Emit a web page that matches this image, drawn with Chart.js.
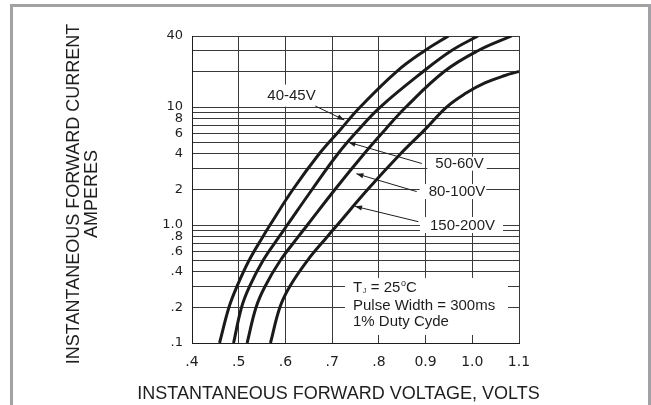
<!DOCTYPE html>
<html>
<head>
<meta charset="utf-8">
<script src="https://cdn.jsdelivr.net/npm/chart.js@4"></script>
<style>
html,body{margin:0;padding:0;background:#fff;}
canvas{display:block;}
</style>
</head>
<body>
<canvas id="c" width="651" height="405"></canvas>
<script>
// ---- data ----
const seriesNames = ['40-45V', '50-60V', '80-100V', '150-200V'];
const current40_45 = [0.1, 0.2, 0.3, 0.5, 0.8, 1, 2, 4, 6.4, 10, 20, 30, 40];
const volt40_45    = [0.459, 0.479, 0.496, 0.522, 0.552, 0.567, 0.616, 0.672, 0.717, 0.760, 0.838, 0.898, 0.949];
const current50_60 = [0.1, 0.2, 0.3, 0.5, 0.8, 1, 2, 4, 6.4, 10, 20, 30, 40];
const volt50_60    = [0.489, 0.506, 0.523, 0.552, 0.587, 0.604, 0.657, 0.712, 0.756, 0.803, 0.895, 0.955, 1.012];
const current80_100 = [0.1, 0.2, 0.3, 0.5, 0.8, 1, 2, 4, 6.4, 10, 20, 30, 40];
const volt80_100    = [0.518, 0.537, 0.556, 0.589, 0.628, 0.647, 0.706, 0.768, 0.813, 0.858, 0.940, 1.012, 1.084];
const current150_200 = [0.1, 0.2, 0.3, 0.5, 0.8, 1, 2, 4, 6.4, 10, 13, 16, 18.5, 20];
const volt150_200    = [0.568, 0.588, 0.609, 0.647, 0.690, 0.711, 0.776, 0.846, 0.898, 0.945, 0.985, 1.027, 1.070, 1.100];

const xTickValues = [0.4, 0.5, 0.6, 0.7, 0.8, 0.9, 1.0, 1.1];
const xTickLabels = ['.4', '.5', '.6', '.7', '.8', '0.9', '1.0', '1.1'];
const yGridValues = [0.1, 0.2, 0.3, 0.4, 0.5, 0.6, 0.7, 0.8, 0.9, 1, 2, 3, 4, 5, 6, 7, 8, 9, 10, 20, 30, 40];
const yLabelValues = [0.1, 0.2, 0.4, 0.6, 0.8, 1, 2, 4, 6, 8, 10, 40];
const yLabelTexts  = ['.1', '.2', '.4', '.6', '.8', '1.0', '2', '4', '6', '8', '10', '40'];

const xTitle = 'INSTANTANEOUS FORWARD VOLTAGE, VOLTS';
const yTitle = ['INSTANTANEOUS FORWARD CURRENT', 'AMPERES'];
const noteLines = ['Pulse Width = 300ms', '1% Duty Cyde'];

// ---- build ----
const volts = [volt40_45, volt50_60, volt80_100, volt150_200];
const currents = [current40_45, current50_60, current80_100, current150_200];
const toPoints = (v, c) => v.map((x, k) => ({x: x, y: c[k]}));

// annotation placement in data units (voltage, current)
const seriesLabels = [
  {text: seriesNames[0], at: [0.613, 12.5], padL: 3, padR: 3, h: 22, arrow: [[0.664, 10.2], [0.726, 7.77]]},
  {text: seriesNames[1], at: [0.9727, 3.31], padL: 8, padR: 3, h: 14, arrow: [[0.892, 3.32], [0.735, 5.03]]},
  {text: seriesNames[2], at: [0.9673, 1.92], padL: 9, padR: 1, h: 15, arrow: [[0.881, 1.92], [0.752, 2.72]]},
  {text: seriesNames[3], at: [0.979, 1.0], padL: 10, padR: 8, h: 16, arrow: [[0.8845, 1.067], [0.749, 1.44]]}
];
const noteBox = {x0: 0.7275, x1: 1.0765, y0: 0.356, y1: 0.117, textX: 0.7447, baselines: [0.273, 0.192, 0.138]};

const LABEL_FONT = '15px "Liberation Sans", Arial, sans-serif';
const INK = '#1e1e1e';

function arrowLine(ctx, x1, y1, x2, y2) {
  ctx.beginPath();
  ctx.moveTo(x1, y1);
  ctx.lineTo(x2, y2);
  ctx.strokeStyle = INK;
  ctx.lineWidth = 1;
  ctx.stroke();
  const a = Math.atan2(y2 - y1, x2 - x1);
  const L = 7, W = 2.6;
  ctx.beginPath();
  ctx.moveTo(x2, y2);
  ctx.lineTo(x2 - L * Math.cos(a) + W * Math.sin(a), y2 - L * Math.sin(a) - W * Math.cos(a));
  ctx.lineTo(x2 - L * Math.cos(a) - W * Math.sin(a), y2 - L * Math.sin(a) + W * Math.cos(a));
  ctx.closePath();
  ctx.fillStyle = INK;
  ctx.fill();
}

const decor = {
  id: 'decor',
  beforeDraw(chart) {
    const ctx = chart.ctx;
    ctx.save();
    ctx.fillStyle = '#fff';
    ctx.fillRect(0, 0, chart.width, chart.height);
    ctx.restore();
  },
  beforeDatasetsDraw(chart) {
    const {ctx} = chart;
    const xs = chart.scales.x, ys = chart.scales.y;
    ctx.save();
    ctx.font = LABEL_FONT;
    ctx.textBaseline = 'middle';
    ctx.textAlign = 'center';
    seriesLabels.forEach(l => {
      const cx = xs.getPixelForValue(l.at[0]);
      const cy = ys.getPixelForValue(l.at[1]);
      const w = ctx.measureText(l.text).width;
      ctx.fillStyle = '#fff';
      ctx.fillRect(cx - w / 2 - l.padL, cy - l.h / 2, w + l.padL + l.padR, l.h);
      ctx.fillStyle = INK;
      ctx.fillText(l.text, cx, cy + 0.5);
      arrowLine(ctx,
        xs.getPixelForValue(l.arrow[0][0]), ys.getPixelForValue(l.arrow[0][1]),
        xs.getPixelForValue(l.arrow[1][0]), ys.getPixelForValue(l.arrow[1][1]));
    });
    // note box
    const bx0 = xs.getPixelForValue(noteBox.x0), bx1 = xs.getPixelForValue(noteBox.x1);
    const by0 = ys.getPixelForValue(noteBox.y0), by1 = ys.getPixelForValue(noteBox.y1);
    ctx.fillStyle = '#fff';
    ctx.fillRect(bx0, by0, bx1 - bx0, by1 - by0);
    ctx.fillStyle = INK;
    ctx.textAlign = 'left';
    ctx.textBaseline = 'alphabetic';
    const tx = xs.getPixelForValue(noteBox.textX);
    const b = noteBox.baselines.map(v => ys.getPixelForValue(v));
    // T_J = 25°C
    let px = tx;
    ctx.font = LABEL_FONT;
    ctx.fillText('T', px, b[0]); px += ctx.measureText('T').width;
    ctx.font = '7px "Liberation Sans", Arial, sans-serif';
    ctx.fillText('J', px + 0.5, b[0] + 1); px += ctx.measureText('J').width + 1;
    ctx.font = LABEL_FONT;
    ctx.fillText(' = 25', px, b[0]); px += ctx.measureText(' = 25').width;
    ctx.font = '9px "Liberation Sans", Arial, sans-serif';
    ctx.fillText('o', px + 0.5, b[0] - 6); px += ctx.measureText('o').width + 0.5;
    ctx.font = LABEL_FONT;
    ctx.fillText('C', px, b[0]);
    ctx.fillText(noteLines[0], tx, b[1]);
    ctx.fillText(noteLines[1], tx, b[2]);
    ctx.restore();
  },
  afterDraw(chart) {
    const {ctx} = chart;
    ctx.save();
    // outer frame
    ctx.fillStyle = '#a2a2a6';
    ctx.fillRect(10, 4, 3, chart.height - 4);
    ctx.fillRect(10, 4, chart.width - 10, 3);
    ctx.fillRect(chart.width - 3, 4, 3, chart.height - 4);
    // axis titles
    ctx.fillStyle = INK;
    ctx.font = '18px "Liberation Sans", Arial, sans-serif';
    ctx.textAlign = 'center';
    ctx.textBaseline = 'middle';
    ctx.fillText(xTitle, 338.5, 394);
    ctx.translate(74, 194);
    ctx.rotate(-Math.PI / 2);
    ctx.fillText(yTitle[0], 0, 0);
    ctx.fillText(yTitle[1], 0, 18.5);
    ctx.restore();
  }
};

new Chart(document.getElementById('c'), {
  type: 'line',
  data: {
    datasets: seriesNames.map((name, s) => ({
      label: name,
      data: toPoints(volts[s], currents[s]),
      borderColor: '#1a1a1a',
      borderWidth: 3,
      pointRadius: 0,
      fill: false,
      tension: 0.4,
      borderJoinStyle: 'round',
      borderCapStyle: 'butt'
    }))
  },
  options: {
    responsive: false,
    devicePixelRatio: 1,
    animation: false,
    events: [],
    layout: {padding: {left: 132, right: 132, top: 36, bottom: 22}},
    plugins: {legend: {display: false}, tooltip: {enabled: false}, title: {display: false}},
    scales: {
      x: {
        type: 'linear',
        min: 0.4, max: 1.1,
        afterBuildTicks: s => { s.ticks = xTickValues.map(v => ({value: v})); },
        afterFit: s => { s.height = 40; },
        ticks: {
          autoSkip: false, maxRotation: 0, padding: 11,
          color: INK,
          font: {family: '"DejaVu Sans", sans-serif', size: 14},
          callback: (v, i) => xTickLabels[i]
        },
        grid: {color: '#3a3a3a', lineWidth: 1, drawTicks: false},
        border: {color: '#1e1e1e', width: 1}
      },
      y: {
        type: 'logarithmic',
        min: 0.1, max: 40,
        afterBuildTicks: s => { s.ticks = yGridValues.map(v => ({value: v})); },
        afterFit: s => { s.width = 60; },
        ticks: {
          autoSkip: false, padding: 9,
          color: INK,
          font: {family: '"DejaVu Sans", sans-serif', size: 13},
          callback: (v) => {
            const k = yLabelValues.findIndex(t => Math.abs(t - v) < 1e-9);
            return k >= 0 ? yLabelTexts[k] : '';
          }
        },
        grid: {color: '#3a3a3a', lineWidth: 1, drawTicks: false},
        border: {color: '#1e1e1e', width: 1}
      }
    }
  },
  plugins: [decor]
});
</script>
</body>
</html>
